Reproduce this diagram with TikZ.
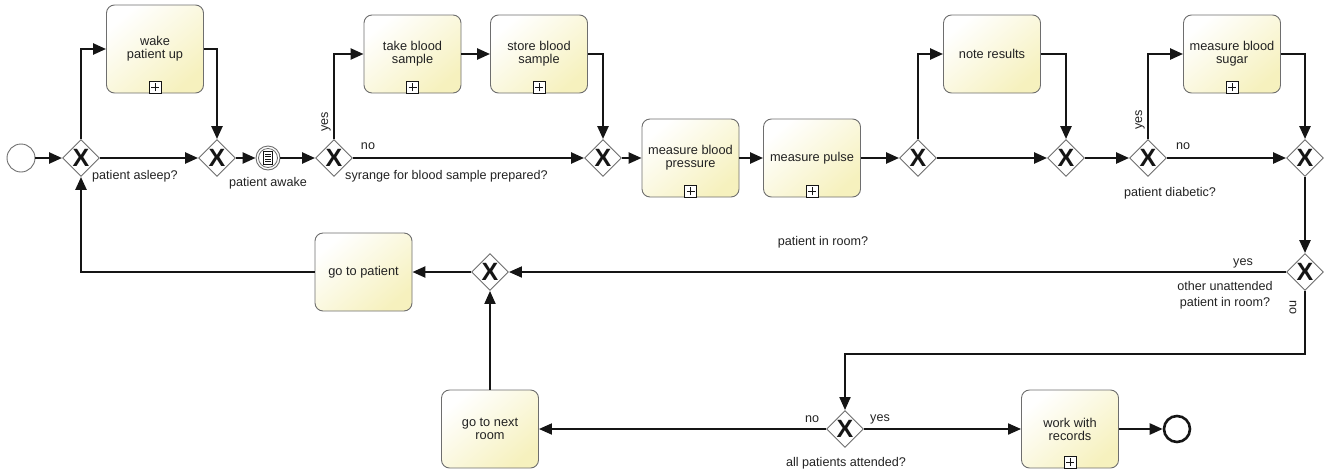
\documentclass[tikz,border=0pt]{standalone}
\usepackage{fontspec}
\setmainfont{Liberation Sans}
\usetikzlibrary{shapes.geometric,arrows.meta}
\definecolor{taskfill}{HTML}{F6F1BE}
\definecolor{taskedge}{HTML}{6E6E6E}
\definecolor{linec}{HTML}{151515}
\definecolor{txt}{HTML}{222222}
\newcommand\gwx{\fontsize{25}{25}\selectfont\bfseries X}
\tikzset{
  task/.style={rectangle, rounded corners=8pt, draw=taskedge, line width=0.9pt,
    minimum width=97pt, minimum height=78pt, inner sep=2pt, align=center,
    text=txt, font=\fontsize{12.8}{13}\selectfont,
    top color=white, bottom color=taskfill, shading angle=40},
  gw/.style={diamond, aspect=1, draw=taskedge, fill=white, line width=0.9pt,
    minimum width=37pt, minimum height=37pt, inner sep=0pt, text=linec},
  startev/.style={circle, draw=taskedge, fill=white, line width=0.9pt, minimum size=28pt, inner sep=0pt},
  endev/.style={circle, draw=linec, fill=white, line width=2.6pt, minimum size=26pt, inner sep=0pt},
  midev/.style={circle, draw=taskedge, fill=white, line width=0.9pt, minimum size=24pt, inner sep=0pt},
  flow/.style={draw=linec, line width=2.4pt, -{Triangle[length=13pt,width=11pt]}},
  flowthin/.style={draw=linec, line width=1.9pt, -{Triangle[length=13pt,width=11pt]}},
  lbl/.style={text=txt, font=\fontsize{12.6}{16}\selectfont, inner sep=0pt},
  mk/.style={draw=linec, line width=0.7pt},
}
\begin{document}
\begin{tikzpicture}[x=1pt,y=-1pt]
\useasboundingbox (0,0) rectangle (1327,472);
% nodes
\node[startev] (s) at (21,158) {};
\node[gw] (g1) at (81,158) {\gwx};
\node[task, minimum height=88pt] (wake) at (155,49) {wake\\patient up};
\node[gw] (g2) at (217,158) {\gwx};
\node[midev] (ev) at (268,158) {};
\node[gw] (g3) at (334,158) {\gwx};
\node[task] (take) at (412.5,54) {take blood\\sample};
\node[task] (store) at (539,54) {store blood\\sample};
\node[gw] (g4) at (603,158) {\gwx};
\node[task] (mbp) at (690.5,158) {measure blood\\pressure};
\node[task] (mp) at (812,158) {measure pulse};
\node[gw] (g5) at (918,158) {\gwx};
\node[task] (note) at (992,54) {note results};
\node[gw] (g6) at (1066,158) {\gwx};
\node[gw] (g7) at (1148,158) {\gwx};
\node[task] (sugar) at (1232,54) {measure blood\\sugar};
\node[gw] (g8) at (1305,158) {\gwx};
\node[gw] (g9) at (1305,272) {\gwx};
\node[gw] (gm) at (490,272) {\gwx};
\node[task] (gtp) at (363.5,272) {go to patient};
\node[task] (gnr) at (490,429) {go to next\\room};
\node[gw] (g10) at (845,429) {\gwx};
\node[task] (work) at (1070,429) {work with\\records};
\node[endev] (e) at (1177,429) {};
\coordinate (c1) at (1305,354);
% intermediate event decoration
\draw[draw=taskedge, line width=0.8pt] (ev.center) circle (9.5pt);
\draw[draw=linec, line width=0.6pt] ([xshift=-4.5pt,yshift=-6.5pt]ev.center) rectangle ([xshift=4.5pt,yshift=6.5pt]ev.center);
\foreach \yy in {-3.5,-1,1.5,4}{
  \draw[draw=linec, line width=0.6pt] ([xshift=-3pt,yshift=\yy pt]ev.center) -- ([xshift=3pt,yshift=\yy pt]ev.center);
}
% subprocess markers
\foreach \n in {wake,take,store,mbp,mp,sugar,work}{
  \draw[mk, fill=white] ([xshift=-6pt]\n.south) rectangle ([xshift=6pt,yshift=12pt]\n.south);
  \draw[mk] ([yshift=2pt]\n.south) -- ([yshift=10pt]\n.south);
  \draw[mk] ([xshift=-4pt,yshift=6pt]\n.south) -- ([xshift=4pt,yshift=6pt]\n.south);
}
% flows
\draw[flow] (s) -- (g1);
\draw[flow] (g1.north) |- (wake.west);
\draw[flow] (wake.east) -| (g2.north);
\draw[flow] (g1) -- (g2);
\draw[flow] (g2) -- (ev);
\draw[flow] (ev) -- (g3);
\draw[flow] (g3.north) |- (take.west);
\draw[flow] (take) -- (store);
\draw[flow] (store.east) -| (g4.north);
\draw[flow] (g3) -- (g4);
\draw[flow] (g4) -- (mbp);
\draw[flow] (mbp) -- (mp);
\draw[flow] (mp) -- (g5);
\draw[flow] (g5.north) |- (note.west);
\draw[flow] (note.east) -| (g6.north);
\draw[flow] (g5) -- (g6);
\draw[flow] (g6) -- (g7);
\draw[flow] (g7.north) |- (sugar.west);
\draw[flow] (sugar.east) -| (g8.north);
\draw[flow] (g7) -- (g8);
\draw[flow] (g8) -- (g9);
\draw[flowthin] (g9) -- (gm);
\draw[flow] (gm) -- (gtp);
\draw[flow] (gtp.west) -| (g1.south);
\draw[flowthin] (g9.south) -- (c1) -| (g10.north);
\draw[flowthin] (g10) -- (gnr);
\draw[flowthin] (g10) -- (work);
\draw[flow] (work) -- (e);
\draw[flowthin] (gnr) -- (gm);
% labels
\node[lbl, anchor=west] (l1) at (92,176) {patient asleep?};
\node[lbl] (l2) at (268,183) {patient awake};
\node[lbl, rotate=90] (l3) at (326,122) {yes};
\node[lbl] (l4) at (368,146) {no};
\node[lbl, anchor=west] (l5) at (345,176) {syrange for blood sample prepared?};
\node[lbl, rotate=90] (l6) at (1140,120) {yes};
\node[lbl] (l7) at (1183,146) {no};
\node[lbl] (l8) at (1170,193) {patient diabetic?};
\node[lbl] (l9) at (823,242) {patient in room?};
\node[lbl] (l10) at (1243,263) {yes};
\node[lbl, align=center] (l11) at (1225,295) {other unattended\\patient in room?};
\node[lbl, rotate=-90] (l12) at (1293,307) {no};
\node[lbl] (l13) at (812,419) {no};
\node[lbl] (l14) at (880,419) {yes};
\node[lbl] (l15) at (846,463) {all patients attended?};
\end{tikzpicture}
\end{document}
